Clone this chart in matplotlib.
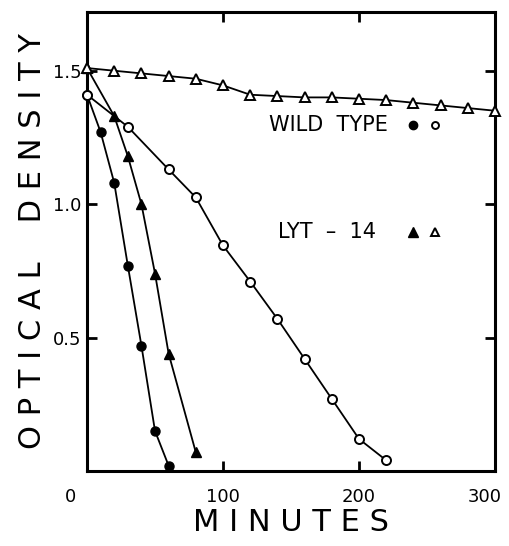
import matplotlib
matplotlib.use("Agg")
import matplotlib.pyplot as plt
import matplotlib.transforms as mtransforms

# wild type, filled circles
wt_fill_x = [0, 10, 20, 30, 40, 50, 60]
wt_fill_y = [1.41, 1.27, 1.08, 0.77, 0.47, 0.15, 0.02]

# wild type, open circles
wt_open_x = [0, 30, 60, 80, 100, 120, 140, 160, 180, 200, 220]
wt_open_y = [1.41, 1.29, 1.13, 1.025, 0.845, 0.71, 0.57, 0.42, 0.27, 0.12, 0.04]

# LYT-14, filled triangles
lyt_fill_x = [0, 20, 30, 40, 50, 60, 80]
lyt_fill_y = [1.51, 1.33, 1.18, 1.0, 0.74, 0.44, 0.07]

# LYT-14, open triangles
lyt_open_x = [0, 20, 40, 60, 80, 100, 120, 140, 160, 180, 200, 220, 240, 260, 280, 300]
lyt_open_y = [1.51, 1.50, 1.49, 1.48, 1.47, 1.445, 1.41, 1.405, 1.40, 1.40,
              1.395, 1.39, 1.38, 1.37, 1.36, 1.35]

x_ticks = [0, 100, 200, 300]
x_labels = ["0", "100", "200", "300"]
y_ticks = [0.5, 1.0, 1.5]
y_labels = ["0.5", "1.0", "1.5"]

fig = plt.figure(figsize=(5.1, 5.46), dpi=100)
ax = fig.add_axes([0.1706, 0.1374, 0.8, 0.8406])

ax.plot(wt_fill_x, wt_fill_y, "-o", color="black", lw=1.3, ms=6.5,
        mfc="black", mec="black", clip_on=False, zorder=3)
ax.plot(wt_open_x, wt_open_y, "-o", color="black", lw=1.3, ms=6.5,
        mfc="white", mec="black", mew=1.4, clip_on=False, zorder=3)
ax.plot(lyt_fill_x, lyt_fill_y, "-^", color="black", lw=1.3, ms=7.5,
        mfc="black", mec="black", clip_on=False, zorder=3)
ax.plot(lyt_open_x, lyt_open_y, "-^", color="black", lw=1.3, ms=7.5,
        mfc="white", mec="black", mew=1.4, clip_on=False, zorder=3)

ax.set_xlim(0, 300)
ax.set_ylim(0, 1.72)

ax.set_xticks(x_ticks)
ax.set_xticklabels(x_labels, fontsize=13)
ax.set_yticks(y_ticks)
ax.set_yticklabels(y_labels, fontsize=13)
ax.tick_params(direction="in", length=7, width=2, top=True, right=True)
ax.tick_params(axis="x", pad=12)
ax.tick_params(axis="y", pad=4)

# hide edge ticks at 0 and 300 but keep their labels, nudged left like the original
shifts = {0: -17, 300: -10}
for t in ax.xaxis.get_major_ticks():
    loc = t.get_loc()
    if loc in shifts:
        t.tick1line.set_visible(False)
        t.tick2line.set_visible(False)
        off = mtransforms.ScaledTranslation(shifts[loc] / 100, 0, fig.dpi_scale_trans)
        t.label1.set_transform(t.label1.get_transform() + off)

for s in ax.spines.values():
    s.set_linewidth(2.2)

ax.set_xlabel("M I N U T E S", fontsize=22, labelpad=2)
ax.set_ylabel("O P T I C A L    D E N S I T Y", fontsize=22, labelpad=4)

ax.text(0.445, 0.754, "WILD  TYPE", transform=ax.transAxes, fontsize=15,
        va="center", ha="left")
ax.text(0.468, 0.52, "LYT  –  14", transform=ax.transAxes, fontsize=15,
        va="center", ha="left")
ax.plot([0.798], [0.754], "o", transform=ax.transAxes, color="black", ms=6)
ax.plot([0.853], [0.754], "o", transform=ax.transAxes, mfc="white",
        mec="black", mew=1.4, ms=5)
ax.plot([0.798], [0.52], "^", transform=ax.transAxes, color="black", ms=6.5)
ax.plot([0.853], [0.52], "^", transform=ax.transAxes, mfc="white",
        mec="black", mew=1.4, ms=6)

fig.savefig("out.png", dpi=100)
